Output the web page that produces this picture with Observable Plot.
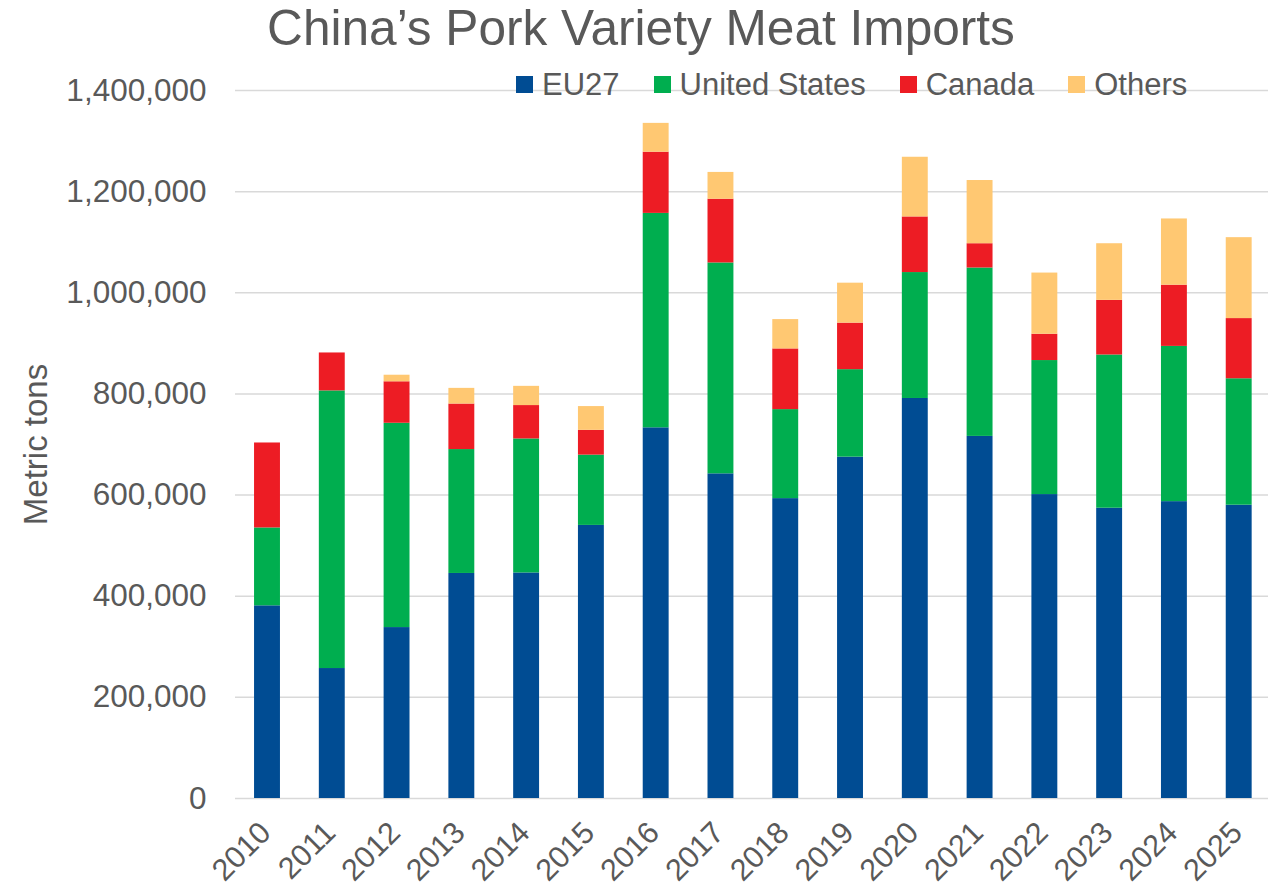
<!DOCTYPE html>
<html>
<head>
<meta charset="utf-8">
<script src="https://cdn.jsdelivr.net/npm/d3@7"></script>
<script src="https://cdn.jsdelivr.net/npm/@observablehq/plot@0.6"></script>
<style>
  html, body { margin: 0; padding: 0; background: #fff; }
  #wrap { position: relative; width: 1268px; height: 890px; font-family: "Liberation Sans", Arial, sans-serif; color: #595959; overflow: hidden; }
  #title { position: absolute; left: 0; top: 3px; width: 1282px; text-align: center; font-size: 49.6px; line-height: 50px; white-space: nowrap; }
  #chart { position: absolute; left: 0; top: 60px; }
  #legend { position: absolute; left: 516px; top: 69px; display: flex; align-items: center; gap: 34px; font-size: 31px; line-height: 31px; white-space: nowrap; }
  .item { display: flex; align-items: center; gap: 9px; }
  .sw { width: 17px; height: 17px; display: inline-block; }
</style>
</head>
<body>
<div id="wrap">
  <div id="title">China’s Pork Variety Meat Imports</div>
  <div id="chart"></div>
  <div id="legend"></div>
</div>
<script>
const years = ["2010","2011","2012","2013","2014","2015","2016","2017","2018","2019","2020","2021","2022","2023","2024","2025"];
const seriesNames = ["EU27", "United States", "Canada", "Others"];
const seriesColors = ["#004C93", "#00AE4F", "#ED1C24", "#FFC872"];
const eu27 = [381000, 257000, 338000, 445000, 446000, 540000, 733000, 642000, 593000, 675000, 791000, 716000, 601000, 574000, 587000, 580000];
const unitedStates = [154000, 549000, 404000, 245000, 265000, 139000, 424000, 417000, 176000, 173000, 249000, 333000, 265000, 303000, 307000, 250000];
const canada = [168000, 75000, 82000, 90000, 66000, 49000, 121000, 126000, 120000, 92000, 110000, 48000, 52000, 108000, 121000, 119000];
const others = [0, 0, 13000, 31000, 38000, 47000, 57000, 53000, 58000, 79000, 118000, 125000, 121000, 112000, 131000, 160000];
const yTicks = [0, 200000, 400000, 600000, 800000, 1000000, 1200000, 1400000];
const yLabel = "Metric tons";

const seriesValues = [eu27, unitedStates, canada, others];
const rows = [];
years.forEach((y, i) => {
  seriesNames.forEach((s, j) => rows.push({year: y, series: s, value: seriesValues[j][i]}));
});

const fmt = d3.format(",");
const chart = Plot.plot({
  width: 1268,
  height: 830,
  marginLeft: 235,
  marginRight: 0,
  marginTop: 30,
  marginBottom: 92,
  style: {fontFamily: "'Liberation Sans', Arial, sans-serif", fontSize: "30px", color: "#595959", background: "transparent"},
  x: {domain: years, paddingInner: 0.6, paddingOuter: 0.294, round: false, range: [235, 1270.7], label: null},
  y: {domain: [0, 1400000], label: null},
  color: {domain: seriesNames, range: seriesColors},
  marks: [
    Plot.gridY(yTicks, {stroke: "#d9d9d9", strokeOpacity: 1, strokeWidth: 1.5}),
    Plot.barY(rows, {x: "year", y: "value", fill: "series", order: seriesNames}),
    Plot.axisY(yTicks, {tickSize: 0, tickPadding: 29, tickFormat: fmt, fontSize: 31.5, fill: "#595959", label: null}),
    Plot.text([yLabel], {frameAnchor: "left", textAnchor: "middle", dx: -199, rotate: -90, fontSize: 33, fill: "#595959"}),
    Plot.axisX({tickSize: 0, tickRotate: -45, tickPadding: 29, dx: -2, fontSize: 30.5, fill: "#595959", label: null})
  ]
});
document.getElementById("chart").appendChild(chart);

const legend = document.getElementById("legend");
seriesNames.forEach((s, j) => {
  const it = document.createElement("div");
  it.className = "item";
  const sw = document.createElement("span");
  sw.className = "sw";
  sw.style.background = seriesColors[j];
  const t = document.createElement("span");
  t.textContent = s;
  it.appendChild(sw); it.appendChild(t);
  legend.appendChild(it);
});
</script>
</body>
</html>
